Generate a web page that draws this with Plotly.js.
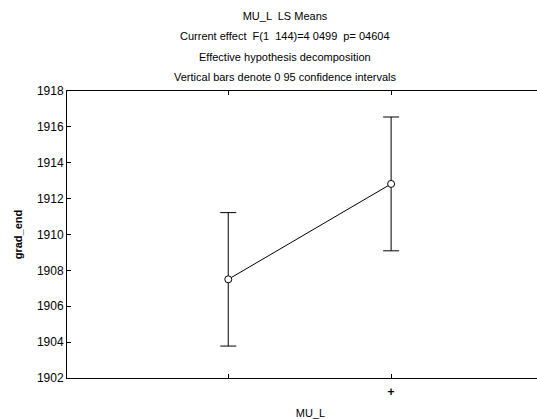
<!DOCTYPE html>
<html>
<head>
<meta charset="utf-8">
<script src="https://cdn.plot.ly/plotly-3.0.1.min.js"></script>
<style>
html,body{margin:0;padding:0;overflow:hidden;background:#fff;}
#chart{width:570px;height:419px;}
</style>
</head>
<body>
<div id="chart"></div>
<script>
var categories = [0, 1];
var tickLabels = ['', '<b>+</b>'];
var means = [1907.5, 1912.82];
var ciHalf = [3.72, 3.73];
var titleLines = [
  'MU_L  LS Means',
  'Current effect  F(1  144)=4 0499  p= 04604',
  'Effective hypothesis decomposition',
  'Vertical bars denote 0 95 confidence intervals'
];

var W = 570, H = 419;
var mL = 67, mR = 16, mT = 91, mB = 41;
var pw = W - mL - mR, ph = H - mT - mB;
var font = {family: 'Liberation Sans, Arial, sans-serif', size: 11, color: '#000'};

var trace = {
  x: categories,
  y: means,
  type: 'scatter',
  mode: 'lines+markers',
  line: {color: '#000', width: 1},
  marker: {symbol: 'circle', size: 7, color: '#fff', line: {color: '#000', width: 1}},
  error_y: {type: 'data', array: ciHalf, visible: true, color: '#000', thickness: 1, width: 8},
  hoverinfo: 'none'
};

var lineY = [16, 36.5, 57, 77];
var annotations = [];
for (var i = 1; i < titleLines.length; i++) {
  annotations.push({
    text: titleLines[i], xref: 'paper', yref: 'paper',
    x: (285 - mL) / pw, y: 1 + (mT - lineY[i]) / ph,
    xanchor: 'center', yanchor: 'middle', showarrow: false, font: font
  });
}

var layout = {
  width: W, height: H,
  margin: {l: mL, r: mR, t: mT, b: mB},
  paper_bgcolor: '#fff', plot_bgcolor: '#fff',
  font: font,
  showlegend: false,
  title: {text: titleLines[0], xref: 'container', x: 0.5, yref: 'container', y: 1 - lineY[0] / H, yanchor: 'middle', font: font},
  annotations: annotations,
  xaxis: {
    range: [-0.99, 2.0],
    tickvals: categories, ticktext: tickLabels,
    ticks: 'inside', ticklen: 4, tickcolor: '#000',
    ticklabelstandoff: 3,
    showline: true, linecolor: '#000', linewidth: 1, mirror: 'ticks',
    showgrid: false, zeroline: false,
    tickfont: {family: font.family, size: 12, color: '#000'},
    title: {text: 'MU_L', font: {family: font.family, size: 11, color: '#000'}, standoff: 12},
    automargin: false
  },
  yaxis: {
    range: [1902, 1918], dtick: 2, tick0: 1902,
    ticks: 'inside', ticklen: 4, tickcolor: '#000',
    showline: true, linecolor: '#000', linewidth: 1, mirror: 'ticks',
    showgrid: false, zeroline: false,
    tickfont: {family: font.family, size: 12, color: '#000'},
    title: {text: '<b>grad_end</b>', font: {family: font.family, size: 11, color: '#000'}, standoff: 12},
    automargin: false
  }
};

Plotly.newPlot('chart', [trace], layout, {displayModeBar: false, staticPlot: true});
</script>
</body>
</html>
